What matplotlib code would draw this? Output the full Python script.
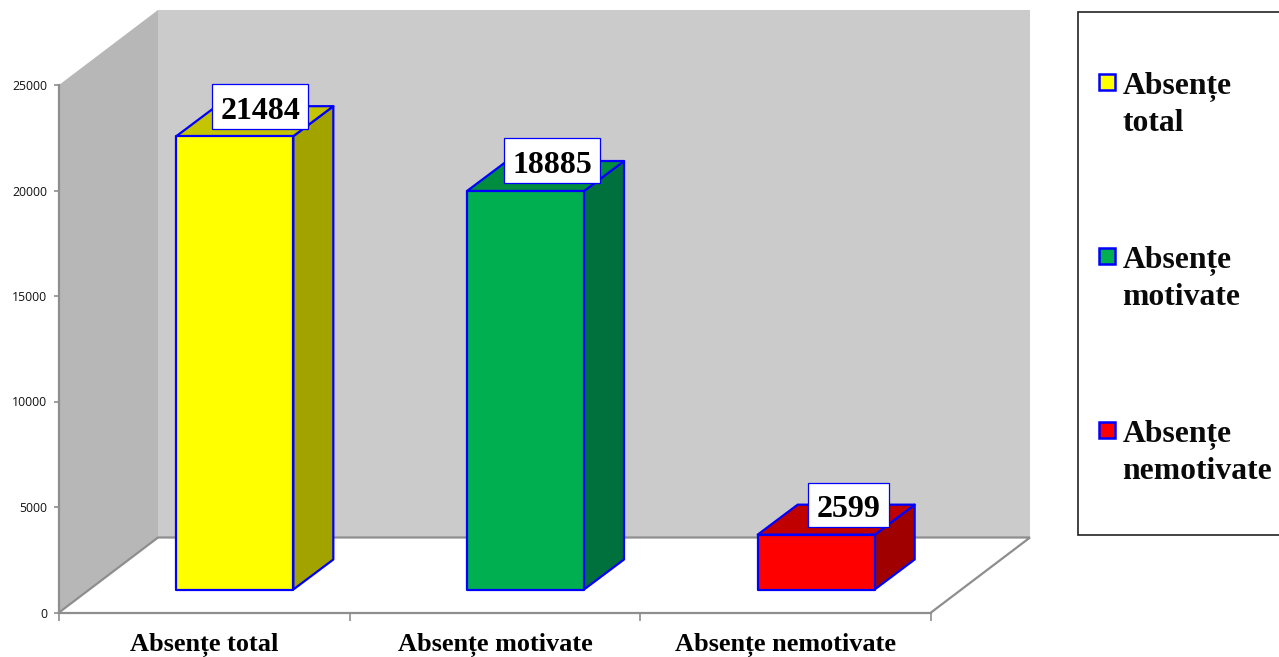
import matplotlib
matplotlib.use("Agg")
import matplotlib.pyplot as plt
from matplotlib.patches import Polygon, Rectangle
from matplotlib.transforms import Affine2D

categories = ["Absențe total", "Absențe motivate", "Absențe nemotivate"]
values = [21484, 18885, 2599]
y_ticks = [0, 5000, 10000, 15000, 20000, 25000]
front_colors = ["#ffff00", "#00b050", "#ff0000"]
top_colors = ["#c4c400", "#008d40", "#c00000"]
side_colors = ["#a3a300", "#00703c", "#a00000"]
legend_labels = ["Absențe\ntotal", "Absențe\nmotivate", "Absențe\nnemotivate"]

W, H = 1279, 657
fig = plt.figure(figsize=(W / 100, H / 100), dpi=100, facecolor="white")
L, R, T, B = 59, 931, 85, 612.5
ax = fig.add_axes([L / W, 1 - B / H, (R - L) / W, (B - T) / H])
ax.set_xlim(0, 3)
ax.set_ylim(0, 25000)
ax.patch.set_visible(False)
px_x = 3 / (R - L)
px_y = 25000 / (B - T)
GRAY = "#8e8e8e"
BLUE = "#0000ff"
px = Affine2D().scale(1, -1).translate(0, H)

wall_dx, wall_dy = 99 * px_x, 75 * px_y
# walls and floor
ax.add_patch(Polygon([(0, 0), (0, 25000), (wall_dx, 25000 + wall_dy), (wall_dx, wall_dy)],
                     closed=True, fc="#b7b7b7", ec="none", clip_on=False, zorder=1))
ax.add_patch(Polygon([(wall_dx, wall_dy), (wall_dx, 25000 + wall_dy), (3 + wall_dx, 25000 + wall_dy), (3 + wall_dx, wall_dy)],
                     closed=True, fc="#cbcbcb", ec="none", clip_on=False, zorder=1))
ax.plot([0, wall_dx, 3 + wall_dx, 3], [0, wall_dy, wall_dy, 0], color=GRAY, lw=1.6,
        clip_on=False, zorder=2, solid_joinstyle="miter")

# bars
bar_w = 117 * px_x
inset_x, inset_y = 30.5 * px_x, 23 * px_y
depth_x, depth_y = 40 * px_x, 30 * px_y
box_w = [96, 96, 81]
box_h = [45, 45, 44]
box_dx = [36, 37, 50]
box_dy = [7, 8, 8]
for i, (v, fc, tc, sc) in enumerate(zip(values, front_colors, top_colors, side_colors)):
    x0 = i + 0.5 + inset_x - bar_w / 2
    x1 = x0 + bar_w
    y0 = inset_y
    y1 = y0 + v
    common = dict(closed=True, ec=BLUE, lw=1.6, clip_on=False, joinstyle="round")
    ax.add_patch(Polygon([(x1, y0), (x1 + depth_x, y0 + depth_y), (x1 + depth_x, y1 + depth_y), (x1, y1)],
                         fc=sc, zorder=3, **common))
    ax.add_patch(Polygon([(x0, y1), (x0 + depth_x, y1 + depth_y), (x1 + depth_x, y1 + depth_y), (x1, y1)],
                         fc=tc, zorder=3, **common))
    ax.add_patch(Polygon([(x0, y0), (x1, y0), (x1, y1), (x0, y1)], fc=fc, zorder=4, **common))
    # value label box, offset in pixels from the bar's top-left corner
    bx0 = x0 + box_dx[i] * px_x
    by0 = y1 + box_dy[i] * px_y
    ax.add_patch(Rectangle((bx0, by0), box_w[i] * px_x, box_h[i] * px_y, fc="white", ec=BLUE,
                           lw=0.9, clip_on=False, zorder=5))
    ax.text(bx0 + box_w[i] * px_x / 2, by0 + (box_h[i] / 2 - 12) * px_y, str(v), ha="center", va="baseline",
            family="Liberation Serif", fontweight="bold", fontsize=23, color="black", zorder=6)

# axes
for s in ("top", "right"):
    ax.spines[s].set_visible(False)
for s in ("left", "bottom"):
    ax.spines[s].set_color(GRAY)
    ax.spines[s].set_linewidth(1.6)
    ax.spines[s].set_zorder(2.5)
ax.set_yticks(y_ticks)
ax.set_yticklabels([str(t) for t in y_ticks], family="Open Sans", fontsize=8.8, color="#111111")
ax.tick_params(axis="y", length=3.5, width=1.2, color=GRAY, pad=5)
ax.set_xticks([0, 1, 2, 3])
ax.set_xticklabels([])
ax.tick_params(axis="x", length=6, width=1.2, color=GRAY)
for i, c in enumerate(categories):
    ax.annotate(c, xy=(i + 0.5, 0), xytext=(0, -38.5 * 0.72), textcoords="offset points",
                ha="center", va="baseline", family="Liberation Serif", fontweight="bold",
                fontsize=18.9, color="black", annotation_clip=False)

# legend, placed in pixels
fig.add_artist(Rectangle((1078, 12), 260, 523, transform=px, fc="white", ec="#222222", lw=1.2))
tops = [74, 248, 422]
for top, lab, fc in zip(tops, legend_labels, front_colors):
    fig.add_artist(Rectangle((1099, top), 16, 16, transform=px, fc=fc, ec=BLUE, lw=1.8))
    first, second = lab.split("\n")
    fig.text(1122.5, top + 20, first, transform=px, ha="left", va="baseline",
             family="Liberation Serif", fontweight="bold", fontsize=22.8, color="#0a0a0a")
    fig.text(1122.5, top + 57, second, transform=px, ha="left", va="baseline",
             family="Liberation Serif", fontweight="bold", fontsize=22.8, color="#0a0a0a")

fig.savefig("out.png", dpi=100)
